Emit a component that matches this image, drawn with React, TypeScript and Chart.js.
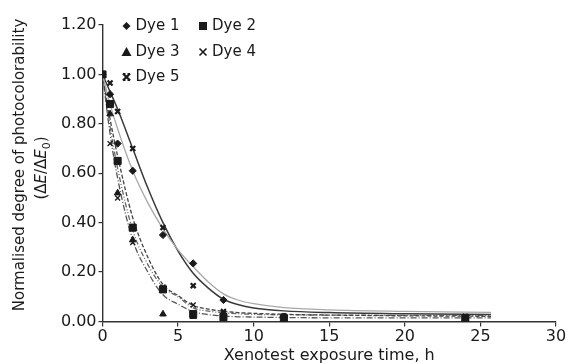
import React, { useEffect, useRef } from "react";
import { Chart, registerables } from "chart.js";

Chart.register(...registerables);

// Measured exposure times (h)
const times = [0, 0.5, 1, 2, 4, 6, 8, 12, 24];
// Measured normalised photocolorability
const dye1 = [1.0, 0.92, 0.72, 0.61, 0.35, 0.235, 0.087, 0.02, 0.015];
const dye2 = [1.0, 0.88, 0.65, 0.38, 0.13, 0.03, 0.018, 0.012, 0.012];
const dye3 = [1.0, 0.84, 0.52, 0.33, 0.03, 0.02, 0.012, 0.01, 0.01];
const dye4 = [1.0, 0.72, 0.5, 0.32, 0.14, 0.067, 0.034, 0.02, 0.02];
const dye5 = [1.0, 0.965, 0.85, 0.7, 0.38, 0.145, 0.04, 0.022, 0.02];

// Fitted curves
const fitX = [0, 0.5, 1, 2, 3, 4, 5, 6, 7, 8, 9, 10, 12, 15, 20, 25.7];
const fit1 = [1.0, 0.88, 0.78, 0.61, 0.48, 0.375, 0.29, 0.222, 0.16, 0.112, 0.086, 0.072, 0.056, 0.047, 0.041, 0.037];
const fit2 = [1.0, 0.82, 0.67, 0.42, 0.26, 0.15, 0.105, 0.065, 0.05, 0.041, 0.036, 0.033, 0.029, 0.026, 0.023, 0.021];
const fit3 = [1.0, 0.76, 0.58, 0.33, 0.2, 0.108, 0.07, 0.04, 0.028, 0.022, 0.019, 0.018, 0.016, 0.015, 0.015, 0.015];
const fit4 = [1.0, 0.79, 0.62, 0.37, 0.23, 0.14, 0.1, 0.055, 0.042, 0.035, 0.031, 0.029, 0.027, 0.026, 0.025, 0.025];
const fit5 = [1.0, 0.93, 0.86, 0.7, 0.54, 0.4, 0.285, 0.195, 0.135, 0.09, 0.068, 0.055, 0.043, 0.036, 0.031, 0.028];

const dyeNames = ["Dye 1", "Dye 2", "Dye 3", "Dye 4", "Dye 5"];
const xTitle = "Xenotest exposure time, h";
const yTitle1 = "Normalised degree of photocolorability";

const FONT = "'DejaVu Sans', sans-serif";
const INK = "#1a1a1a";

const pts = (xs: number[], ys: number[]) => xs.map((x, i) => ({ x, y: ys[i] }));

function drawMarker(ctx: CanvasRenderingContext2D, kind: string, x: number, y: number) {
  ctx.save();
  ctx.fillStyle = INK;
  ctx.strokeStyle = INK;
  ctx.beginPath();
  if (kind === "diamond") {
    ctx.moveTo(x, y - 4);
    ctx.lineTo(x + 4, y);
    ctx.lineTo(x, y + 4);
    ctx.lineTo(x - 4, y);
    ctx.closePath();
    ctx.fill();
  } else if (kind === "square") {
    ctx.fillRect(x - 4, y - 4, 8, 8);
  } else if (kind === "triangle") {
    ctx.moveTo(x, y - 5);
    ctx.lineTo(x + 5, y + 4);
    ctx.lineTo(x - 5, y + 4);
    ctx.closePath();
    ctx.fill();
  } else {
    const r = 3.5;
    ctx.lineWidth = kind === "xbold" ? 2.4 : 1.6;
    ctx.moveTo(x - r, y - r);
    ctx.lineTo(x + r, y + r);
    ctx.moveTo(x + r, y - r);
    ctx.lineTo(x - r, y + r);
    ctx.stroke();
    if (kind === "xbold") {
      ctx.lineWidth = 1.2;
      ctx.beginPath();
      ctx.moveTo(x - r, y - r);
      ctx.lineTo(x - r + 2.5, y - r);
      ctx.moveTo(x + r, y + r);
      ctx.lineTo(x + r - 2.5, y + r);
      ctx.moveTo(x + r, y - r);
      ctx.lineTo(x + r - 2.5, y - r);
      ctx.moveTo(x - r, y + r);
      ctx.lineTo(x - r + 2.5, y + r);
      ctx.stroke();
    }
  }
  ctx.restore();
}

const decorPlugin = {
  id: "decor",
  afterDraw(chart: any) {
    const ctx: CanvasRenderingContext2D = chart.ctx;
    const area = chart.chartArea;
    ctx.save();
    ctx.fillStyle = INK;
    ctx.textBaseline = "middle";

    // Legend
    const kinds = ["diamond", "square", "triangle", "cross", "xbold"];
    const slots = [
      [126.5, 26],
      [203, 26],
      [126.5, 52],
      [203, 52],
      [126.5, 77],
    ];
    ctx.font = `15px ${FONT}`;
    ctx.textAlign = "left";
    dyeNames.forEach((name, i) => {
      const [mx, my] = slots[i];
      drawMarker(ctx, kinds[i], mx, my);
      ctx.fillStyle = INK;
      ctx.fillText(name, mx + 9, my);
    });

    // X title
    ctx.font = `16px ${FONT}`;
    ctx.textAlign = "center";
    ctx.fillText(xTitle, (area.left + area.right) / 2, 356);

    // Y title (rotated)
    ctx.save();
    ctx.translate(20, 165);
    ctx.rotate(-Math.PI / 2);
    ctx.font = `15px ${FONT}`;
    ctx.textAlign = "center";
    ctx.fillText(yTitle1, 0, 0);
    ctx.restore();

    ctx.save();
    ctx.translate(42, 168);
    ctx.rotate(-Math.PI / 2);
    ctx.textAlign = "left";
    const normal = `15px ${FONT}`;
    const italic = `italic 15px ${FONT}`;
    const sub = `11px ${FONT}`;
    const segs: [string, string, number][] = [
      ["(\u0394", normal, 0],
      ["E", italic, 0],
      ["/\u0394", normal, 0],
      ["E", italic, 0],
      ["0", sub, 5],
      [")", normal, 0],
    ];
    let total = 0;
    segs.forEach(([t, f]) => {
      ctx.font = f;
      total += ctx.measureText(t).width;
    });
    let cx = -total / 2;
    segs.forEach(([t, f, dy]) => {
      ctx.font = f;
      ctx.fillText(t, cx, dy);
      cx += ctx.measureText(t).width;
    });
    ctx.restore();

    ctx.restore();
  },
};

export default function App() {
  const ref = useRef<HTMLCanvasElement | null>(null);

  useEffect(() => {
    if (!ref.current) return;
    const lineDs = (label: string, ys: number[], color: string, dash: number[], width: number) => ({
      type: "line" as const,
      label,
      data: pts(fitX, ys),
      borderColor: color,
      borderWidth: width,
      borderDash: dash,
      pointRadius: 0,
      fill: false,
      cubicInterpolationMode: "monotone" as const,
      order: 2,
    });
    const ptDs = (label: string, ys: number[], style: any, radius: number, bw: number) => ({
      type: "scatter" as const,
      label,
      data: pts(times, ys),
      showLine: false,
      pointStyle: style,
      pointRadius: radius,
      pointBackgroundColor: INK,
      pointBorderColor: INK,
      pointBorderWidth: bw,
      order: 1,
    });

    const chart = new Chart(ref.current, {
      type: "scatter",
      data: {
        datasets: [
          lineDs("fit1", fit1, "#a8a8a8", [], 1.3),
          lineDs("fit5", fit5, "#3a3a3a", [], 1.5),
          lineDs("fit2", fit2, "#444444", [4, 2], 1.3),
          lineDs("fit3", fit3, "#555555", [6, 2, 1, 2], 1.3),
          lineDs("fit4", fit4, "#666666", [5, 2, 1, 2, 1, 2], 1.3),
          ptDs(dyeNames[0], dye1, "rectRot", 3.6, 1),
          ptDs(dyeNames[1], dye2, "rect", 5, 1),
          ptDs(dyeNames[2], dye3, "triangle", 3.8, 1),
          ptDs(dyeNames[3], dye4, "crossRot", 3.5, 1.4),
          ptDs(dyeNames[4], dye5, "crossRot", 3.5, 2.2),
        ] as any,
      },
      options: {
        animation: false,
        responsive: true,
        maintainAspectRatio: false,
        layout: { padding: { left: 0, top: 25, right: 12, bottom: 0 } },
        plugins: { legend: { display: false }, tooltip: { enabled: false } },
        scales: {
          x: {
            type: "linear",
            min: 0,
            max: 30,
            afterFit: (s: any) => {
              s.height = 42.5;
            },
            ticks: {
              stepSize: 5,
              color: INK,
              padding: 1,
              font: { family: FONT, size: 16 },
              maxRotation: 0,
            },
            grid: { display: true, drawOnChartArea: false, drawTicks: true, tickLength: 5, color: "#333", lineWidth: 1.2 },
            border: { display: true, color: "#333", width: 1.4 },
          },
          y: {
            type: "linear",
            min: 0,
            max: 1.2,
            afterFit: (s: any) => {
              s.width = 102.5;
            },
            ticks: {
              stepSize: 0.2,
              color: INK,
              padding: 2,
              font: { family: FONT, size: 16 },
              callback: (v: any) => Number(v).toFixed(2),
            },
            grid: { display: true, drawOnChartArea: false, drawTicks: true, tickLength: 4, color: "#333", lineWidth: 1.2 },
            border: { display: true, color: "#333", width: 1.4 },
          },
        },
      },
      plugins: [decorPlugin],
    });
    return () => chart.destroy();
  }, []);

  return (
    <div style={{ position: "fixed", left: 0, top: 0, width: 568, height: 364, background: "#fff" }}>
      <canvas ref={ref} />
    </div>
  );
}
